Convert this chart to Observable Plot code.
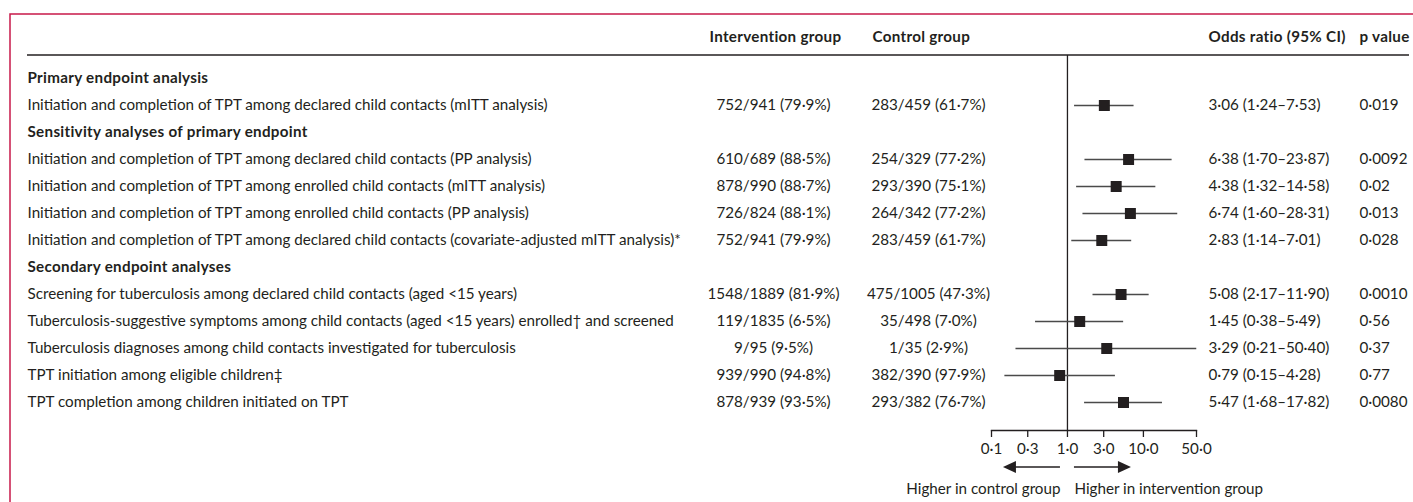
<!DOCTYPE html>
<html>
<head>
<meta charset="utf-8">
<script src="https://cdn.jsdelivr.net/npm/d3@7"></script>
<script src="https://cdn.jsdelivr.net/npm/@observablehq/plot@0.6"></script>
<style>
  html, body { margin: 0; padding: 0; background: #fff; }
  #chart { width: 1413px; height: 502px; overflow: hidden; }
  #chart g[font-weight="bold"] text { letter-spacing: 0.3px; }
</style>
</head>
<body>
<div id="chart"></div>
<script>
// ---------- data ----------
const sectionTitles = ["Primary endpoint analysis", "Sensitivity analyses of primary endpoint", "Secondary endpoint analyses"];
const sectionStart = [0, 1, 5]; // index of first outcome in each section
const outcomes = [
  "Initiation and completion of TPT among declared child contacts (mITT analysis)",
  "Initiation and completion of TPT among declared child contacts (PP analysis)",
  "Initiation and completion of TPT among enrolled child contacts (mITT analysis)",
  "Initiation and completion of TPT among enrolled child contacts (PP analysis)",
  "Initiation and completion of TPT among declared child contacts (covariate-adjusted mITT analysis)*",
  "Screening for tuberculosis among declared child contacts (aged <15 years)",
  "Tuberculosis-suggestive symptoms among child contacts (aged <15 years) enrolled† and screened",
  "Tuberculosis diagnoses among child contacts investigated for tuberculosis",
  "TPT initiation among eligible children‡",
  "TPT completion among children initiated on TPT"
];
const interventionGroup = ["752/941 (79·9%)", "610/689 (88·5%)", "878/990 (88·7%)", "726/824 (88·1%)", "752/941 (79·9%)",
  "1548/1889 (81·9%)", "119/1835 (6·5%)", "9/95 (9·5%)", "939/990 (94·8%)", "878/939 (93·5%)"];
const controlGroup = ["283/459 (61·7%)", "254/329 (77·2%)", "293/390 (75·1%)", "264/342 (77·2%)", "283/459 (61·7%)",
  "475/1005 (47·3%)", "35/498 (7·0%)", "1/35 (2·9%)", "382/390 (97·9%)", "293/382 (76·7%)"];
const oddsRatio = [3.06, 6.38, 4.38, 6.74, 2.83, 5.08, 1.45, 3.29, 0.79, 5.47];
const ciLow = [1.24, 1.70, 1.32, 1.60, 1.14, 2.17, 0.38, 0.21, 0.15, 1.68];
const ciHigh = [7.53, 23.87, 14.58, 28.31, 7.01, 11.90, 5.49, 50.40, 4.28, 17.82];
const pValues = ["0·019", "0·0092", "0·02", "0·013", "0·028", "0·0010", "0·56", "0·37", "0·77", "0·0080"];
const columnHeaders = ["Intervention group", "Control group", "Odds ratio (95% CI)", "p value"];
const axisTicks = [0.1, 0.3, 1, 3, 10, 50];
const directionLabels = ["Higher in control group", "Higher in intervention group"];

// ---------- layout ----------
const W = 1413, H = 502;
const mL = 991, mR = 217, mT = 55, mB = 72;
const frameH = H - mT - mB;
const colX = {label: 27, int: 773, ctrl: 928, or: 1208, p: 1359, ruleEnd: 1409};
const headerX = [709, 872, 1208, 1359];
const ink = "#231f20";
const font = "Lato, 'Open Sans', sans-serif";
const fs = 15.2;

const dot = v => v.toFixed(2).replace(".", "·");
const tickFmt = d => d.toFixed(1).replace(".", "·");

const rows = outcomes.map((o, i) => ({
  label: o, int: interventionGroup[i], ctrl: controlGroup[i],
  or: oddsRatio[i], lo: ciLow[i], hi: ciHigh[i],
  orText: `${dot(oddsRatio[i])} (${dot(ciLow[i])}–${dot(ciHigh[i])})`,
  p: pValues[i]
}));
const rowOrder = [];
outcomes.forEach((o, i) => {
  const s = sectionStart.indexOf(i);
  if (s >= 0) rowOrder.push(sectionTitles[s]);
  rowOrder.push(o);
});
const sections = sectionTitles.map(t => ({label: t}));

const frameMark = (index, scales, values, dim) => {
  const g = d3.create("svg:g");
  g.append("path").attr("d", `M10,${H} V14 H${W}`).attr("fill", "none")
    .attr("stroke", "#c8194a").attr("stroke-width", 1.5);
  g.append("line").attr("x1", colX.label).attr("x2", colX.ruleEnd)
    .attr("y1", dim.marginTop).attr("y2", dim.marginTop)
    .attr("stroke", ink).attr("stroke-width", 1.3);
  return g.node();
};

const arrowMark = (index, scales, values, dim) => {
  const g = d3.create("svg:g").attr("fill", ink).attr("stroke", ink);
  const x0 = scales.x(1), y = 467;
  for (const s of [-1, 1]) {
    const a = x0 + s * 7, b = x0 + s * 64;
    g.append("line").attr("x1", a).attr("x2", b - s * 10).attr("y1", y).attr("y2", y).attr("stroke-width", 1.5);
    g.append("path").attr("d", `M${b},${y} L${b - s * 13},${y - 6} L${b - s * 13},${y + 6} Z`).attr("stroke", "none");
  }
  return g.node();
};

const txt = {fontFamily: font, fontSize: fs, fill: ink};

const chart = Plot.plot({
  width: W, height: H,
  marginLeft: mL, marginRight: mR, marginTop: mT, marginBottom: mB,
  style: {fontFamily: font, fontSize: fs + "px", color: ink, background: "#fff"},
  x: {type: "log", domain: [0.1, 50], nice: false, axis: null},
  y: {type: "point", domain: rowOrder, range: [76.5, 403.5], padding: 0, axis: null},
  marks: [
    frameMark,
    ...columnHeaders.map((h, i) => Plot.text([h], {text: d => d, frameAnchor: "top-left", textAnchor: "start",
      lineAnchor: "middle", dx: headerX[i] - mL, dy: -18, ...txt, fontWeight: "bold"})),
    Plot.text(sections, {y: "label", text: "label", frameAnchor: "left", textAnchor: "start",
      dx: colX.label - mL, ...txt, fontWeight: "bold"}),
    Plot.text(rows, {y: "label", text: "label", frameAnchor: "left", textAnchor: "start", dx: colX.label - mL, ...txt}),
    Plot.text(rows, {y: "label", text: "int", frameAnchor: "left", textAnchor: "middle", dx: colX.int - mL, ...txt}),
    Plot.text(rows, {y: "label", text: "ctrl", frameAnchor: "left", textAnchor: "middle", dx: colX.ctrl - mL, ...txt}),
    Plot.text(rows, {y: "label", text: "orText", frameAnchor: "left", textAnchor: "start", dx: colX.or - mL, ...txt}),
    Plot.text(rows, {y: "label", text: "p", frameAnchor: "left", textAnchor: "start", dx: colX.p - mL, ...txt}),
    Plot.ruleX([1], {stroke: ink, strokeWidth: 1.3}),
    Plot.ruleY(rows, {y: "label", x1: "lo", x2: "hi", stroke: "#4a4a4a", strokeWidth: 1.5}),
    Plot.dot(rows, {y: "label", x: "or", symbol: "square", r: 6.2, fill: ink, stroke: "none"}),
    // x axis (log scale): baseline, ticks, labels
    Plot.frame({anchor: "bottom", stroke: ink, strokeWidth: 1.3}),
    Plot.ruleX(axisTicks, {x: d => d, insetTop: frameH, insetBottom: -7, stroke: ink, strokeWidth: 1.3}),
    Plot.text(axisTicks, {x: d => d, text: tickFmt, frameAnchor: "bottom", lineAnchor: "middle", dy: 19, ...txt}),
    arrowMark,
    Plot.text([1], {x: d => d, text: () => directionLabels[0], frameAnchor: "bottom", textAnchor: "end",
      lineAnchor: "middle", dx: -7, dy: 59, ...txt}),
    Plot.text([1], {x: d => d, text: () => directionLabels[1], frameAnchor: "bottom", textAnchor: "start",
      lineAnchor: "middle", dx: 7, dy: 59, ...txt})
  ]
});
document.getElementById("chart").appendChild(chart);
</script>
</body>
</html>
